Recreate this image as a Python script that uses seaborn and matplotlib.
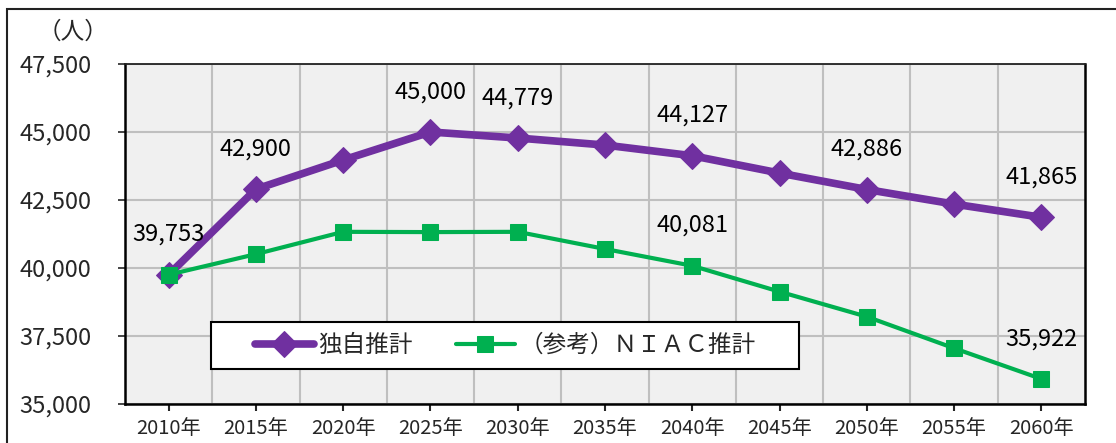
import matplotlib
matplotlib.use("Agg")
import matplotlib.pyplot as plt
import matplotlib.patches as mpatches
from matplotlib.ticker import FixedLocator
import pandas as pd
import seaborn as sns

years = [2010, 2015, 2020, 2025, 2030, 2035, 2040, 2045, 2050, 2055, 2060]
own_est = [39753, 42900, 43970, 45000, 44779, 44520, 44127, 43490, 42886, 42350, 41865]
niac_est = [39753, 40510, 41330, 41320, 41330, 40700, 40081, 39130, 38210, 37050, 35922]
own_label_years = [2010, 2015, 2025, 2030, 2040, 2050, 2060]
niac_label_years = [2040, 2060]
y_ticks = [35000, 37500, 40000, 42500, 45000, 47500]
series_names = ["独自推計", "（参考）ＮＩＡＣ推計"]

df = pd.DataFrame({"year": years, "own": own_est, "niac": niac_est})

sns.set_style("white")
plt.rcParams["font.family"] = ["Noto Sans CJK JP", "DejaVu Sans"]

purple = "#7030A0"
green = "#00B050"

fig = plt.figure(figsize=(11.16, 4.43), dpi=100)
ax = fig.add_axes([125 / 1116, 1 - 404 / 443, 960 / 1116, 340 / 443])
ax.set_facecolor("#F0F0F0")

sns.lineplot(data=df, x="year", y="own", ax=ax, color=purple, linewidth=5.5,
             marker="D", markersize=13, markeredgecolor=purple,
             label=series_names[0], zorder=3)
sns.lineplot(data=df, x="year", y="niac", ax=ax, color=green, linewidth=3,
             marker="s", markersize=11, markeredgecolor=green,
             label=series_names[1], zorder=3)

# data labels
for col, sel in [("own", own_label_years), ("niac", niac_label_years)]:
    for _, r in df[df["year"].isin(sel)].iterrows():
        ax.annotate(f"{int(r[col]):,}", (r["year"], r[col]), xytext=(0, 29),
                    textcoords="offset points", ha="center", va="center",
                    fontsize=17, color="black", zorder=4)

ax.set_xlim(years[0] - 2.5, years[-1] + 2.5)
ax.set_ylim(y_ticks[0], y_ticks[-1])
ax.set_xticks(years)
ax.set_xticklabels([f"{y}年" for y in years], fontsize=14.5)
ax.xaxis.set_minor_locator(FixedLocator([y + 2.5 for y in years[:-1]]))
ax.set_yticks(y_ticks)
ax.set_yticklabels([f"{v:,}" for v in y_ticks], fontsize=17)
ax.tick_params(axis="x", which="major", direction="out", length=5, width=1.5,
               pad=5, bottom=True)
ax.tick_params(axis="x", which="minor", length=0)
ax.tick_params(axis="y", direction="out", length=5, width=1.2, pad=19, left=True)
ax.set_xlabel("")
ax.set_ylabel("")

ax.grid(axis="y", which="major", color="#BFBFBF", linewidth=1.5)
ax.grid(axis="x", which="minor", color="#BFBFBF", linewidth=1.5)
ax.set_axisbelow(True)

for side in ["left", "bottom", "right"]:
    ax.spines[side].set_color("black")
    ax.spines[side].set_linewidth(1.8)
ax.spines["top"].set_color("#222222")
ax.spines["top"].set_linewidth(1.3)

# legend
box = mpatches.Rectangle(((211 - 125) / 960, (404 - 369) / 340),
                         (799 - 211) / 960, (369 - 322) / 340,
                         transform=ax.transAxes, facecolor="white",
                         edgecolor="black", linewidth=1.5, zorder=5)
ax.add_patch(box)
leg = ax.legend(loc="center", bbox_to_anchor=(0.396, 0.172), ncol=2,
                frameon=False, fontsize=17, handlelength=2.5,
                handletextpad=0.2, columnspacing=1.8, borderpad=0)
leg.set_zorder(6)

fig.text(73 / 1116, 1 - 32 / 443, "（人）", ha="center", va="center", fontsize=17)

frame = mpatches.Rectangle((7 / 1116, -0.1), 1.2, 1.1 - 9 / 443,
                           transform=fig.transFigure, fill=False,
                           edgecolor="#222222", linewidth=1.5)
fig.add_artist(frame)

fig.savefig("out.png", dpi=100)
